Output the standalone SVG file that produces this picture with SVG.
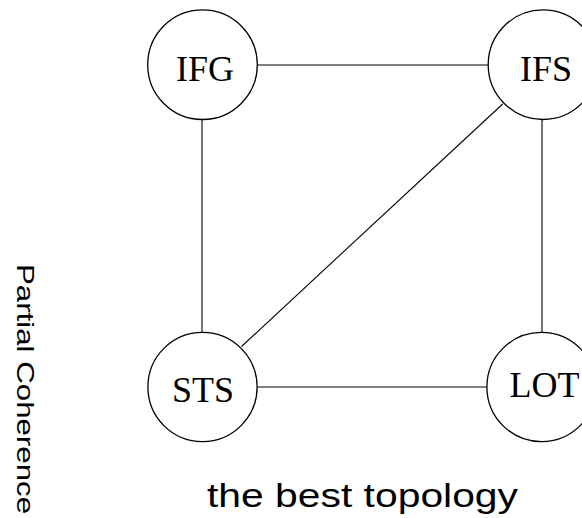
<svg xmlns="http://www.w3.org/2000/svg" width="582" height="518" viewBox="0 0 582 518">
  <style>
    .node circle { fill: #ffffff; stroke: #000000; stroke-width: 1.3; }
    .node text { font-family: "Liberation Serif", "Times New Roman", serif; font-size: 36px; fill: #000000; text-anchor: middle; }
    #edges line { stroke: #000000; stroke-width: 1.1; }
    .label { font-family: "Liberation Sans", Arial, sans-serif; fill: #000000; }
  </style>
  <rect width="582" height="518" fill="#ffffff"/>

  <!-- connectors between regions -->
  <g id="edges">
    <line x1="257.5" y1="65" x2="488.3" y2="65"/>
    <line x1="202" y1="119.7" x2="202" y2="332.5"/>
    <line x1="542" y1="119.7" x2="542" y2="332.5"/>
    <line x1="257.5" y1="387" x2="486.7" y2="387"/>
    <line x1="502.7" y1="104" x2="241.5" y2="346.5"/>
  </g>

  <g id="node-IFG" class="node">
    <circle cx="202.5" cy="64.7" r="54.8"/>
    <text x="205" y="80.5">IFG</text>
  </g>
  <g id="node-IFS" class="node">
    <circle cx="543" cy="64.7" r="54.8"/>
    <text x="546" y="81">IFS</text>
  </g>
  <g id="node-STS" class="node">
    <circle cx="202.5" cy="387" r="54.6"/>
    <text x="203" y="401.7">STS</text>
  </g>
  <g id="node-LOT" class="node">
    <circle cx="541.5" cy="387" r="54.6"/>
    <text x="544.5" y="397.3">LOT</text>
  </g>

  <!-- axis label and caption -->
  <text class="label" font-size="24" transform="translate(17.3,264) rotate(90)" textLength="250" lengthAdjust="spacingAndGlyphs">Partial Coherence</text>
  <text class="label" font-size="33" x="207" y="507.3" textLength="311" lengthAdjust="spacingAndGlyphs">the best topology</text>
</svg>
